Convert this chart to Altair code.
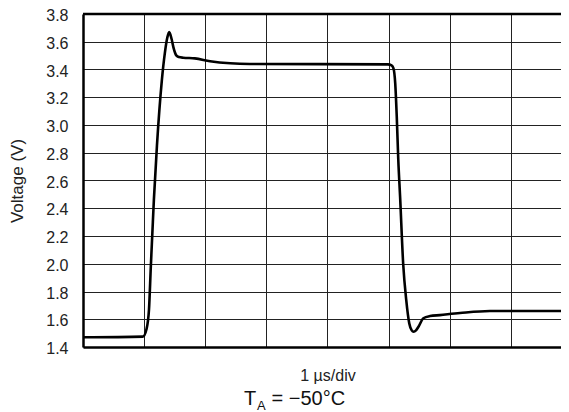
import altair as alt
import pandas as pd

# time in divisions (1 µs/div) and voltage
time_us = [0, 0.98, 1.04, 1.08, 1.11, 1.135, 1.16, 1.21, 1.29, 1.34, 1.38, 1.41,
           1.45, 1.48, 1.53, 1.57, 1.64, 1.83, 2.08, 2.41, 2.73, 4.99, 5.05, 5.08,
           5.11, 5.135, 5.16, 5.19, 5.24, 5.29, 5.34, 5.38, 5.41, 5.45, 5.49, 5.57,
           5.68, 5.84, 6.17, 6.66, 8.0]
voltage = [1.47, 1.475, 1.53, 1.67, 1.98, 2.22, 2.46, 2.85, 3.32, 3.52, 3.63, 3.67,
           3.62, 3.56, 3.50, 3.49, 3.485, 3.48, 3.46, 3.445, 3.44, 3.437, 3.43, 3.41,
           3.30, 3.06, 2.75, 2.48, 2.0, 1.74, 1.57, 1.52, 1.51, 1.52, 1.546, 1.607,
           1.623, 1.63, 1.645, 1.66, 1.66]
y_ticks = [1.4, 1.6, 1.8, 2.0, 2.2, 2.4, 2.6, 2.8, 3.0, 3.2, 3.4, 3.6, 3.8]
x_grid = [1, 2, 3, 4, 5, 6, 7]
top_edge = [3.8]

df = pd.DataFrame({"t": time_us, "v": voltage})
FONT = "Liberation Sans"
GRID = "#222222"

x = alt.X(
    "t:Q",
    scale=alt.Scale(domain=[0, 7.823], nice=False, zero=False),
    axis=alt.Axis(
        values=x_grid, labels=False, ticks=False, grid=True,
        gridColor=GRID, gridWidth=1, gridOpacity=1,
        domainColor="#000000", domainWidth=2.5,
        title="1 µs/div", titleFont=FONT, titleFontSize=16,
        titleFontWeight="normal", titleColor="#222222",
        titleX=244.5, titleY=33, titleBaseline="alphabetic", titleAlign="center",
    ),
)
y = alt.Y(
    "v:Q",
    scale=alt.Scale(domain=[1.4, 3.8], nice=False, zero=False),
    axis=alt.Axis(
        values=y_ticks, format=".1f", labelFont=FONT, labelFontSize=16,
        labelColor="#222222", labelPadding=15, labelOverlap=False, labelOffset=1.5,
        ticks=False, grid=True, gridColor=GRID, gridWidth=1, gridOpacity=1,
        domainColor="#000000", domainWidth=2.5,
        title="Voltage (V)", titleFont=FONT, titleFontSize=17,
        titleFontWeight="normal", titleColor="#222222",
        titleX=-65.5, titleY=166.5, titleAngle=270,
        titleAlign="center", titleBaseline="middle",
    ),
)

line = alt.Chart(df).mark_line(
    color="#000000", strokeWidth=2.6, interpolate="monotone", clip=True
).encode(x=x, y=y)

top_rule = alt.Chart(pd.DataFrame({"v": top_edge})).mark_rule(
    color="#000000", strokeWidth=2.5
).encode(y=y)

one = pd.DataFrame({"a": [0]})
t_main = alt.Chart(one).mark_text(
    text="T", font=FONT, fontSize=20, align="left", baseline="alphabetic", color="#111111"
).encode(x=alt.value(161), y=alt.value(391))
t_sub = alt.Chart(one).mark_text(
    text="A", font=FONT, fontSize=13, align="left", baseline="alphabetic", color="#111111"
).encode(x=alt.value(174), y=alt.value(396))
t_rest = alt.Chart(one).mark_text(
    text="= \u221250\u00b0C", font=FONT, fontSize=20, align="left", baseline="alphabetic",
    color="#111111"
).encode(x=alt.value(188.5), y=alt.value(391))

chart = alt.layer(line, top_rule, t_main, t_sub, t_rest).properties(
    width=478, height=333,
    padding={"left": 75, "top": 6, "right": 0, "bottom": 65},
    autosize=alt.AutoSizeParams(type="none"),
).configure_view(stroke=None).configure(background="white")

chart.save("out.html", embed_options={"renderer": "svg", "actions": False})
